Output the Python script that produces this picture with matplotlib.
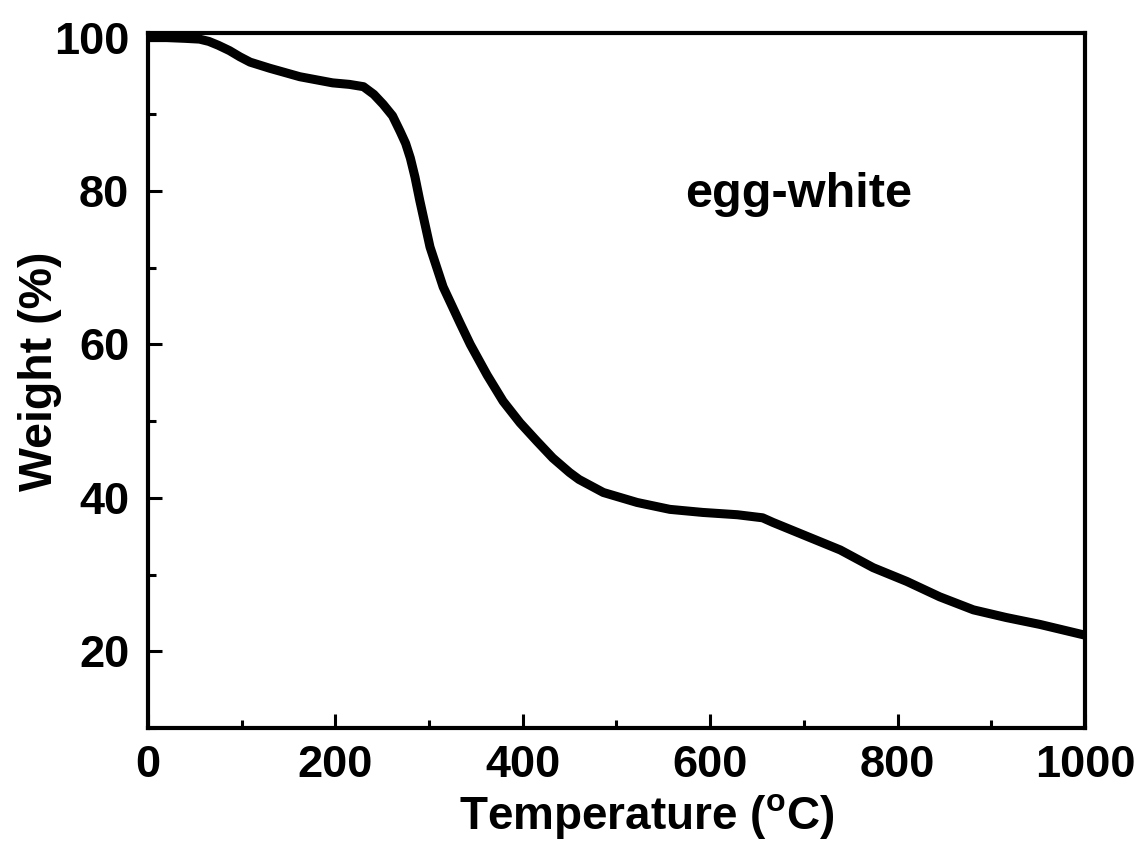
import numpy as np
import matplotlib
matplotlib.use("Agg")
import matplotlib.pyplot as plt
from matplotlib.ticker import MultipleLocator

# ---------------------------------------------------------------- style
plt.rcParams["font.family"] = ["Liberation Sans", "DejaVu Sans"]
plt.rcParams["font.weight"] = "bold"
plt.rcParams["mathtext.fontset"] = "custom"
plt.rcParams["mathtext.rm"] = "Liberation Sans:bold"
plt.rcParams["mathtext.bf"] = "Liberation Sans:bold"

# ---------------------------------------------------------------- data (TGA, egg-white)
temp = [0, 20, 40, 55, 65, 75, 87, 98, 109, 130, 162, 197, 215, 230, 241,
        251, 261, 269, 275, 280, 285, 290, 301, 315, 333, 344, 362, 379,
        397, 415, 432, 450, 460, 486, 522, 557, 592, 629, 656, 667, 703,
        739, 774, 810, 845, 881, 916, 952, 1000]
weight = [100.0, 100.0, 99.9, 99.8, 99.5, 99.0, 98.3, 97.5, 96.8, 96.0,
          94.9, 94.1, 93.9, 93.6, 92.6, 91.3, 89.8, 87.8, 86.2, 84.3, 81.8,
          78.8, 72.7, 67.5, 62.8, 60.0, 56.0, 52.6, 49.8, 47.4, 45.2, 43.3,
          42.4, 40.7, 39.4, 38.5, 38.1, 37.8, 37.4, 36.8, 35.0, 33.2, 30.9,
          29.1, 27.1, 25.4, 24.4, 23.5, 22.1]

# ---------------------------------------------------------------- canvas
fig = plt.figure(figsize=(11.42, 8.46), dpi=100)
ax = fig.add_axes([0.1296, 0.1395, 0.8204, 0.8215])

ax.plot(temp, weight, color="black", linewidth=6.5, solid_capstyle="round",
        solid_joinstyle="round")

ax.text(573, 79.5, "egg-white", fontsize=35, fontweight="bold", va="center")

ax.set_xlim(0, 1000)
ax.set_ylim(10, 100.6)
ax.xaxis.set_major_locator(MultipleLocator(200))
ax.xaxis.set_minor_locator(MultipleLocator(100))
ax.yaxis.set_major_locator(MultipleLocator(20))
ax.yaxis.set_minor_locator(MultipleLocator(10))
ax.set_yticks([20, 40, 60, 80, 100])

ax.tick_params(which="both", direction="in", top=False, right=False, width=2.2,
               labelsize=32.5)
ax.tick_params(which="major", length=10)
ax.tick_params(which="minor", length=6)
ax.tick_params(axis="x", pad=12)
ax.tick_params(axis="y", pad=13.5)
for lab in ax.get_xticklabels() + ax.get_yticklabels():
    lab.set_fontweight("bold")
for side in ax.spines.values():
    side.set_linewidth(3)

ax.set_xlabel(r"Temperature ($\mathrm{^o}$C)", fontsize=33, fontweight="bold")
ax.set_ylabel("Weight (%)", fontsize=33.5, fontweight="bold")
ax.xaxis.set_label_coords(0.532, -0.092)
ax.yaxis.set_label_coords(-0.092, 0.514)

fig.savefig("out.png", dpi=100)
